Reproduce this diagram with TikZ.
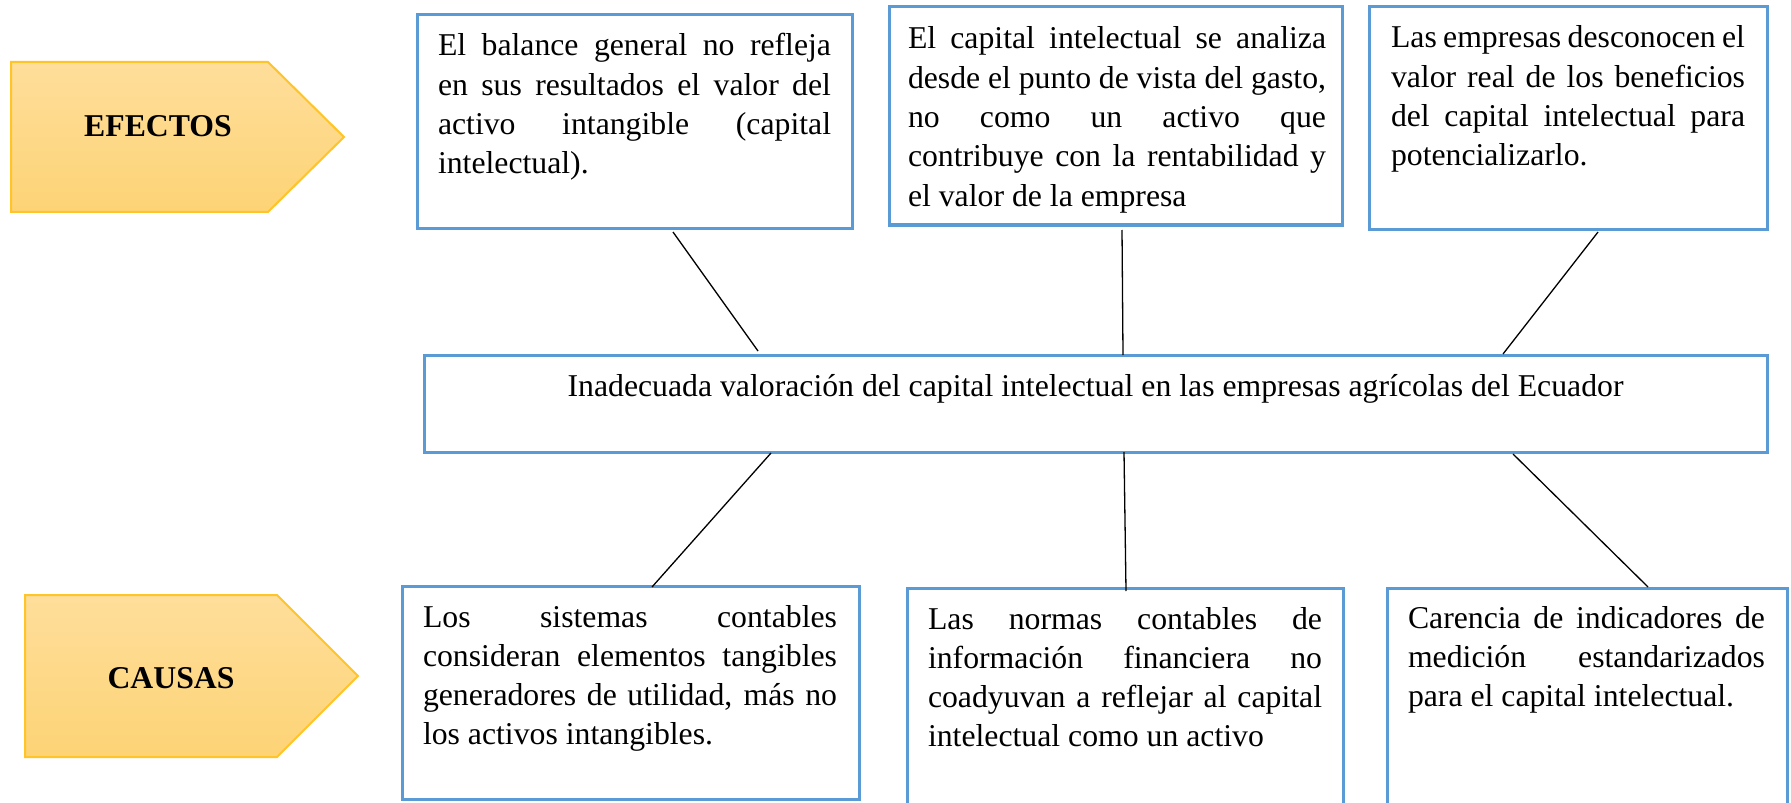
\documentclass[tikz,border=0pt]{standalone}
\usepackage{fontspec}
\setmainfont{Liberation Serif}
\usetikzlibrary{calc}
\definecolor{boxblue}{RGB}{91,155,213}
\definecolor{goldtop}{RGB}{254,222,155}
\definecolor{goldbot}{RGB}{253,211,117}
\definecolor{goldline}{RGB}{255,196,40}
\newcommand\myfs{\fontsize{15.87}{19.65}\selectfont}
\newcommand\justline[1]{\hbox to\linewidth{#1}\break}
\tikzset{
  bx/.style={draw=boxblue, line width=1.5pt, rectangle, outer sep=0pt, inner sep=0pt, anchor=north west},
  boxtext/.style={anchor=base west, inner sep=0pt, outer sep=0pt, align=justify, font=\myfs},
  conn/.style={draw=black, line width=0.65pt},
  tag/.style={top color=goldtop, bottom color=goldbot, draw=goldline, line width=1pt},
  tagtext/.style={anchor=base, inner sep=0pt, font=\myfs\bfseries}
}
\begin{document}
\begin{tikzpicture}[x=0.5pt,y=-0.5pt]
\useasboundingbox (0,0) rectangle (1791,802);
\clip (0,0) rectangle (1791,802);
\fill[white] (0,0) rectangle (1791,802);

% tags
\path[tag] (11,62) -- (268,62) -- (344,137) -- (268,212) -- (11,212) -- cycle;
\node[tagtext] (efectos) at (158,137) {EFECTOS};
\path[tag] (25,595) -- (277,595) -- (358,676) -- (277,757) -- (25,757) -- cycle;
\node[tagtext] (causas) at (171,688) {CAUSAS};

% effect boxes
\node[bx, minimum width=217.5pt, minimum height=106.5pt] (e1) at (417,15) {};
\node[bx, minimum width=226.5pt, minimum height=109pt] (e2) at (889,7) {};
\node[bx, minimum width=199pt, minimum height=111pt] (e3) at (1369,7) {};
% main
\node[bx, minimum width=671.5pt, minimum height=48.5pt] (main) at (424,355) {};
% cause boxes
\node[bx, minimum width=228.5pt, minimum height=106.5pt] (c1) at (402,586) {};
\node[bx, minimum width=218pt, minimum height=115pt] (c2) at (907,588) {};
\node[bx, minimum width=200pt, minimum height=115pt] (c3) at (1387,588) {};

% texts
\node[boxtext, text width=196.5pt] (e1t) at ($(e1.north west)+(21,41)$)
 {\justline{El balance general no refleja}\justline{en sus resultados el valor del}\justline{activo intangible (capital}intelectual).};
\node[boxtext, text width=209pt] (e2t) at ($(e2.north west)+(19,42)$)
 {\justline{El capital intelectual se analiza}\justline{desde el punto de vista del gasto,}\justline{no como un activo que}\justline{contribuye con la rentabilidad y}el valor de la empresa};
\node[boxtext, text width=177pt] (e3t) at ($(e3.north west)+(22,41)$)
 {\justline{Las empresas desconocen el}\justline{valor real de los beneficios}\justline{del capital intelectual para}potencializarlo.};
\node[font=\myfs, anchor=base, inner sep=0pt] (maint) at ($(main.north)+(0,41)$)
 {Inadecuada valoración del capital intelectual en las empresas agrícolas del Ecuador};
\node[boxtext, text width=207pt] (c1t) at ($(c1.north west)+(21,41)$)
 {\justline{Los sistemas contables}\justline{consideran elementos tangibles}\justline{generadores de utilidad, más no}los activos intangibles.};
\node[boxtext, text width=197pt] (c2t) at ($(c2.north west)+(21,41)$)
 {\justline{Las normas contables de}\justline{información financiera no}\justline{coadyuvan a reflejar al capital}intelectual como un activo};
\node[boxtext, text width=178.5pt] (c3t) at ($(c3.north west)+(21,40)$)
 {\justline{Carencia de indicadores de}\justline{medición estandarizados}para el capital intelectual.};

% connectors
\draw[conn] ($(e1.south west)+(256,4)$) -- ($(main.north west)+(334,-4)$);
\draw[conn] ($(e2.south west)+(233,5)$) -- ($(main.north west)+(699,0)$);
\draw[conn] ($(e3.south west)+(229,3)$) -- ($(main.north west)+(1079,-1)$);
\draw[conn] ($(main.south west)+(347,1)$) -- ($(c1.north west)+(250,1)$);
\draw[conn] ($(main.south west)+(700,0)$) -- ($(c2.north west)+(219,3)$);
\draw[conn] ($(main.south west)+(1089,2)$) -- ($(c3.north west)+(261,-1)$);
\end{tikzpicture}
\end{document}
